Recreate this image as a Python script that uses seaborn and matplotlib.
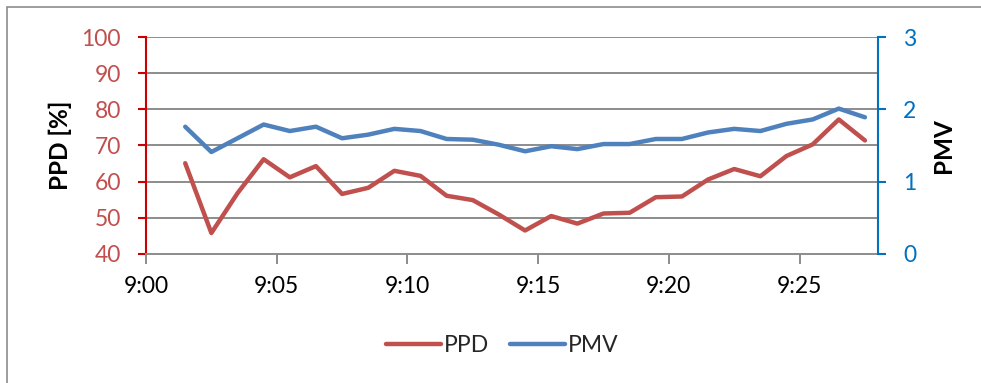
import matplotlib
matplotlib.use("Agg")
import matplotlib.pyplot as plt
import seaborn as sns
import pandas as pd
from matplotlib.patches import Rectangle

# Minutes after 9:00 for each reading (one per minute)
minutes = list(range(1, 28))

ppd = [65.1, 45.8, 56.8, 66.2, 61.2, 64.3, 56.6, 58.3, 63.0, 61.6,
       56.1, 54.9, 50.9, 46.5, 50.5, 48.4, 51.2, 51.4, 55.7, 55.9,
       60.6, 63.5, 61.5, 67.1, 70.3, 77.2, 71.4]

pmv = [1.76, 1.41, 1.60, 1.79, 1.70, 1.76, 1.60, 1.65, 1.73, 1.70,
       1.59, 1.58, 1.51, 1.42, 1.49, 1.45, 1.52, 1.52, 1.59, 1.59,
       1.68, 1.73, 1.70, 1.80, 1.86, 2.01, 1.89]

tick_minutes = [0, 5, 10, 15, 20, 25]
tick_labels = ["9:00", "9:05", "9:10", "9:15", "9:20", "9:25"]

ppd_ticks = [40, 50, 60, 70, 80, 90, 100]
pmv_ticks = [0, 1, 2, 3]

RED = "#C0504D"
BLUE = "#4F81BD"
RED_AXIS = "#CC0000"
BLUE_AXIS = "#0070C0"
GRID = "#8C8C8C"

sns.set_theme(style="white")
plt.rcParams["font.family"] = ["Lato", "DejaVu Sans"]

# each reading sits in the middle of its one-minute slot
df = pd.DataFrame({
    "slot": [m + 0.5 for m in minutes],
    "PPD": ppd,
    "PMV": pmv,
})

fig = plt.figure(figsize=(9.81, 3.83), dpi=100)
fig.patches.append(Rectangle((7 / 981, -0.1), 1.1, 1 - 7 / 383 + 0.1,
                             transform=fig.transFigure, fill=False,
                             edgecolor="#8C8C8C", linewidth=1.2))

ax = fig.add_axes([146 / 981, 1 - 254 / 383, (878 - 146) / 981, (254 - 37) / 383])
ax2 = ax.twinx()

sns.lineplot(data=df, x="slot", y="PPD", ax=ax, color=RED, linewidth=3.2,
             label="PPD", legend=False)
sns.lineplot(data=df, x="slot", y="PMV", ax=ax2, color=BLUE, linewidth=3.2,
             label="PMV", legend=False)

ax.set_xlim(0, 28)
ax.set_ylim(40, 100)
ax2.set_ylim(0, 3)
ax.set_xticks(tick_minutes)
ax.set_xticklabels(tick_labels)
ax.set_yticks(ppd_ticks)
ax2.set_yticks(pmv_ticks)

for y in ppd_ticks[1:]:
    ax.axhline(y, color=GRID, linewidth=1.4, zorder=0)

ax.set_xlabel("")
ax.set_ylabel("PPD [%]", fontsize=17.5, fontweight="bold", color="black", labelpad=7)
ax2.set_ylabel("PMV", fontsize=17.5, fontweight="bold", color="black", labelpad=11)

for a in (ax, ax2):
    for s in a.spines.values():
        s.set_visible(False)

ax.spines["left"].set_visible(True)
ax.spines["left"].set_color(RED_AXIS)
ax.spines["left"].set_linewidth(1.5)
ax.spines["bottom"].set_visible(True)
ax.spines["bottom"].set_color(GRID)
ax.spines["bottom"].set_linewidth(1.4)
ax2.spines["right"].set_visible(True)
ax2.spines["right"].set_color(BLUE_AXIS)
ax2.spines["right"].set_linewidth(1.5)

ax.tick_params(axis="y", colors=RED_AXIS, labelcolor=RED, labelsize=16.5,
               length=6, width=1.5, direction="out", left=True, pad=12)
ax.tick_params(axis="x", colors=GRID, labelcolor="black", labelsize=16.5,
               length=7, width=1.4, direction="out", bottom=True, pad=9)
ax2.tick_params(axis="y", colors=BLUE_AXIS, labelcolor=BLUE_AXIS, labelsize=16.5,
                length=6, width=1.5, direction="out", right=True, pad=12)

h1, l1 = ax.get_legend_handles_labels()
h2, l2 = ax2.get_legend_handles_labels()
fig.legend(h1 + h2, l1 + l2, loc="center", bbox_to_anchor=(0.512, 1 - 346 / 383),
           ncol=2, frameon=False, fontsize=16.5, handlelength=2.4,
           handletextpad=0.15, columnspacing=0.9)

fig.savefig("out.png", dpi=100)
